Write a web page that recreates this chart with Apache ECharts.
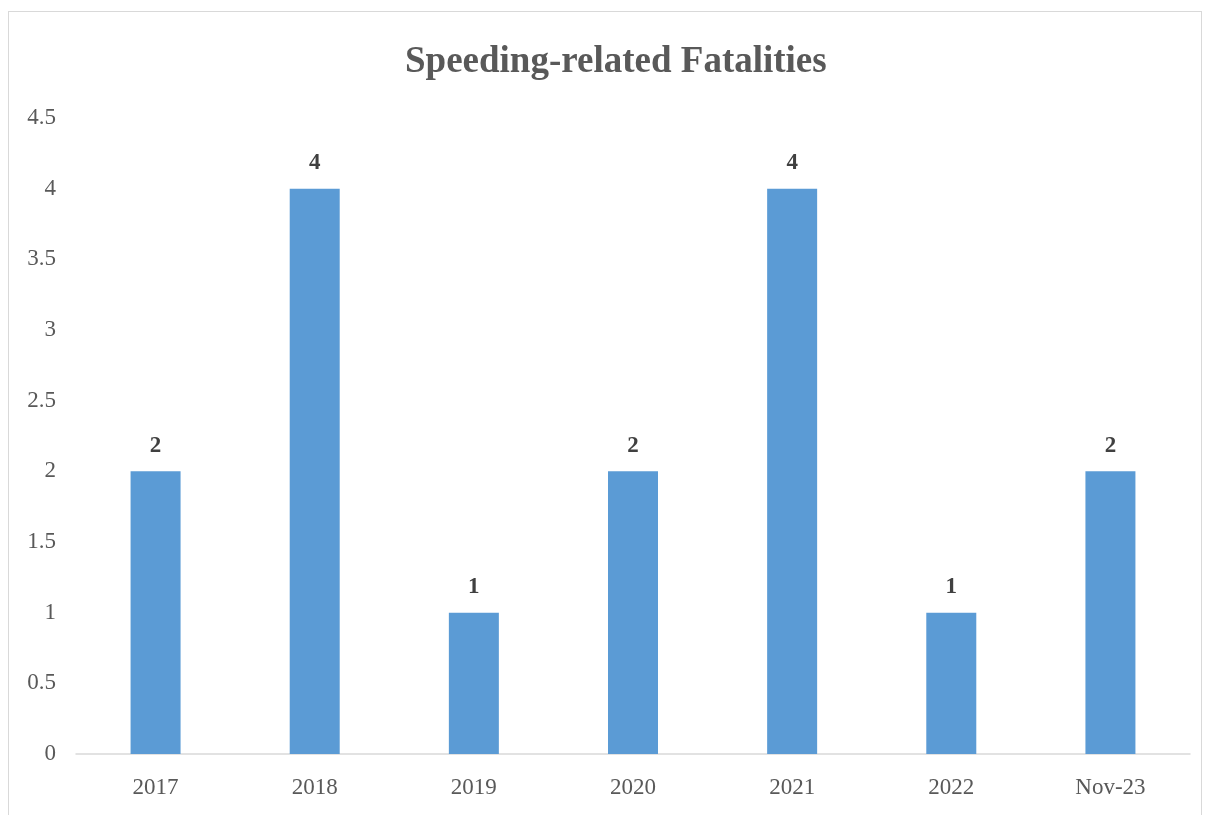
<!DOCTYPE html>
<html>
<head>
<meta charset="utf-8">
<script src="https://cdn.jsdelivr.net/npm/echarts@6/dist/echarts.min.js"></script>
<style>
  html, body { margin: 0; padding: 0; background: #fff; }
  #frame {
    position: absolute; left: 8px; top: 11px; width: 1194px; height: 820px;
    border: 1px solid #d9d9d9; box-sizing: border-box;
  }
  #chart { position: absolute; left: 0; top: 0; width: 1207px; height: 815px; }
</style>
</head>
<body>
<div id="frame"></div>
<div id="chart"></div>
<script>
// categories and values
const categories = ["2017", "2018", "2019", "2020", "2021", "2022", "Nov-23"];
const fatalities = [2, 4, 1, 2, 4, 1, 2];

const chart = echarts.init(document.getElementById("chart"));

const option = {
  animation: false,
  title: {
    text: "Speeding-related Fatalities",
    left: 400,
    top: 39,
    textStyle: {
      fontFamily: "Liberation Serif",
      fontWeight: "bold",
      fontSize: 37,
      color: "#595959",
    },
  },
  grid: {
    left: 76,
    right: 17,
    top: 118,
    bottom: 61,
  },
  xAxis: {
    type: "category",
    data: categories,
    axisLine: { lineStyle: { color: "#d9d9d9", width: 1.5 } },
    axisTick: { show: false },
    axisLabel: {
      fontFamily: "Liberation Serif",
      fontSize: 23,
      color: "#595959",
      margin: 22,
    },
  },
  yAxis: {
    type: "value",
    min: 0,
    max: 4.5,
    interval: 0.5,
    splitLine: { show: false },
    axisLine: { show: false },
    axisTick: { show: false },
    axisLabel: {
      fontFamily: "Liberation Serif",
      fontSize: 23,
      color: "#595959",
      margin: 20,
    },
  },
  series: [
    {
      type: "bar",
      data: fatalities,
      barWidth: 50,
      itemStyle: { color: "#5b9bd5" },
      label: {
        show: true,
        position: "top",
        distance: 14,
        fontFamily: "Liberation Serif",
        fontWeight: "bold",
        fontSize: 23,
        color: "#404040",
      },
    },
  ],
};

chart.setOption(option);
</script>
</body>
</html>
